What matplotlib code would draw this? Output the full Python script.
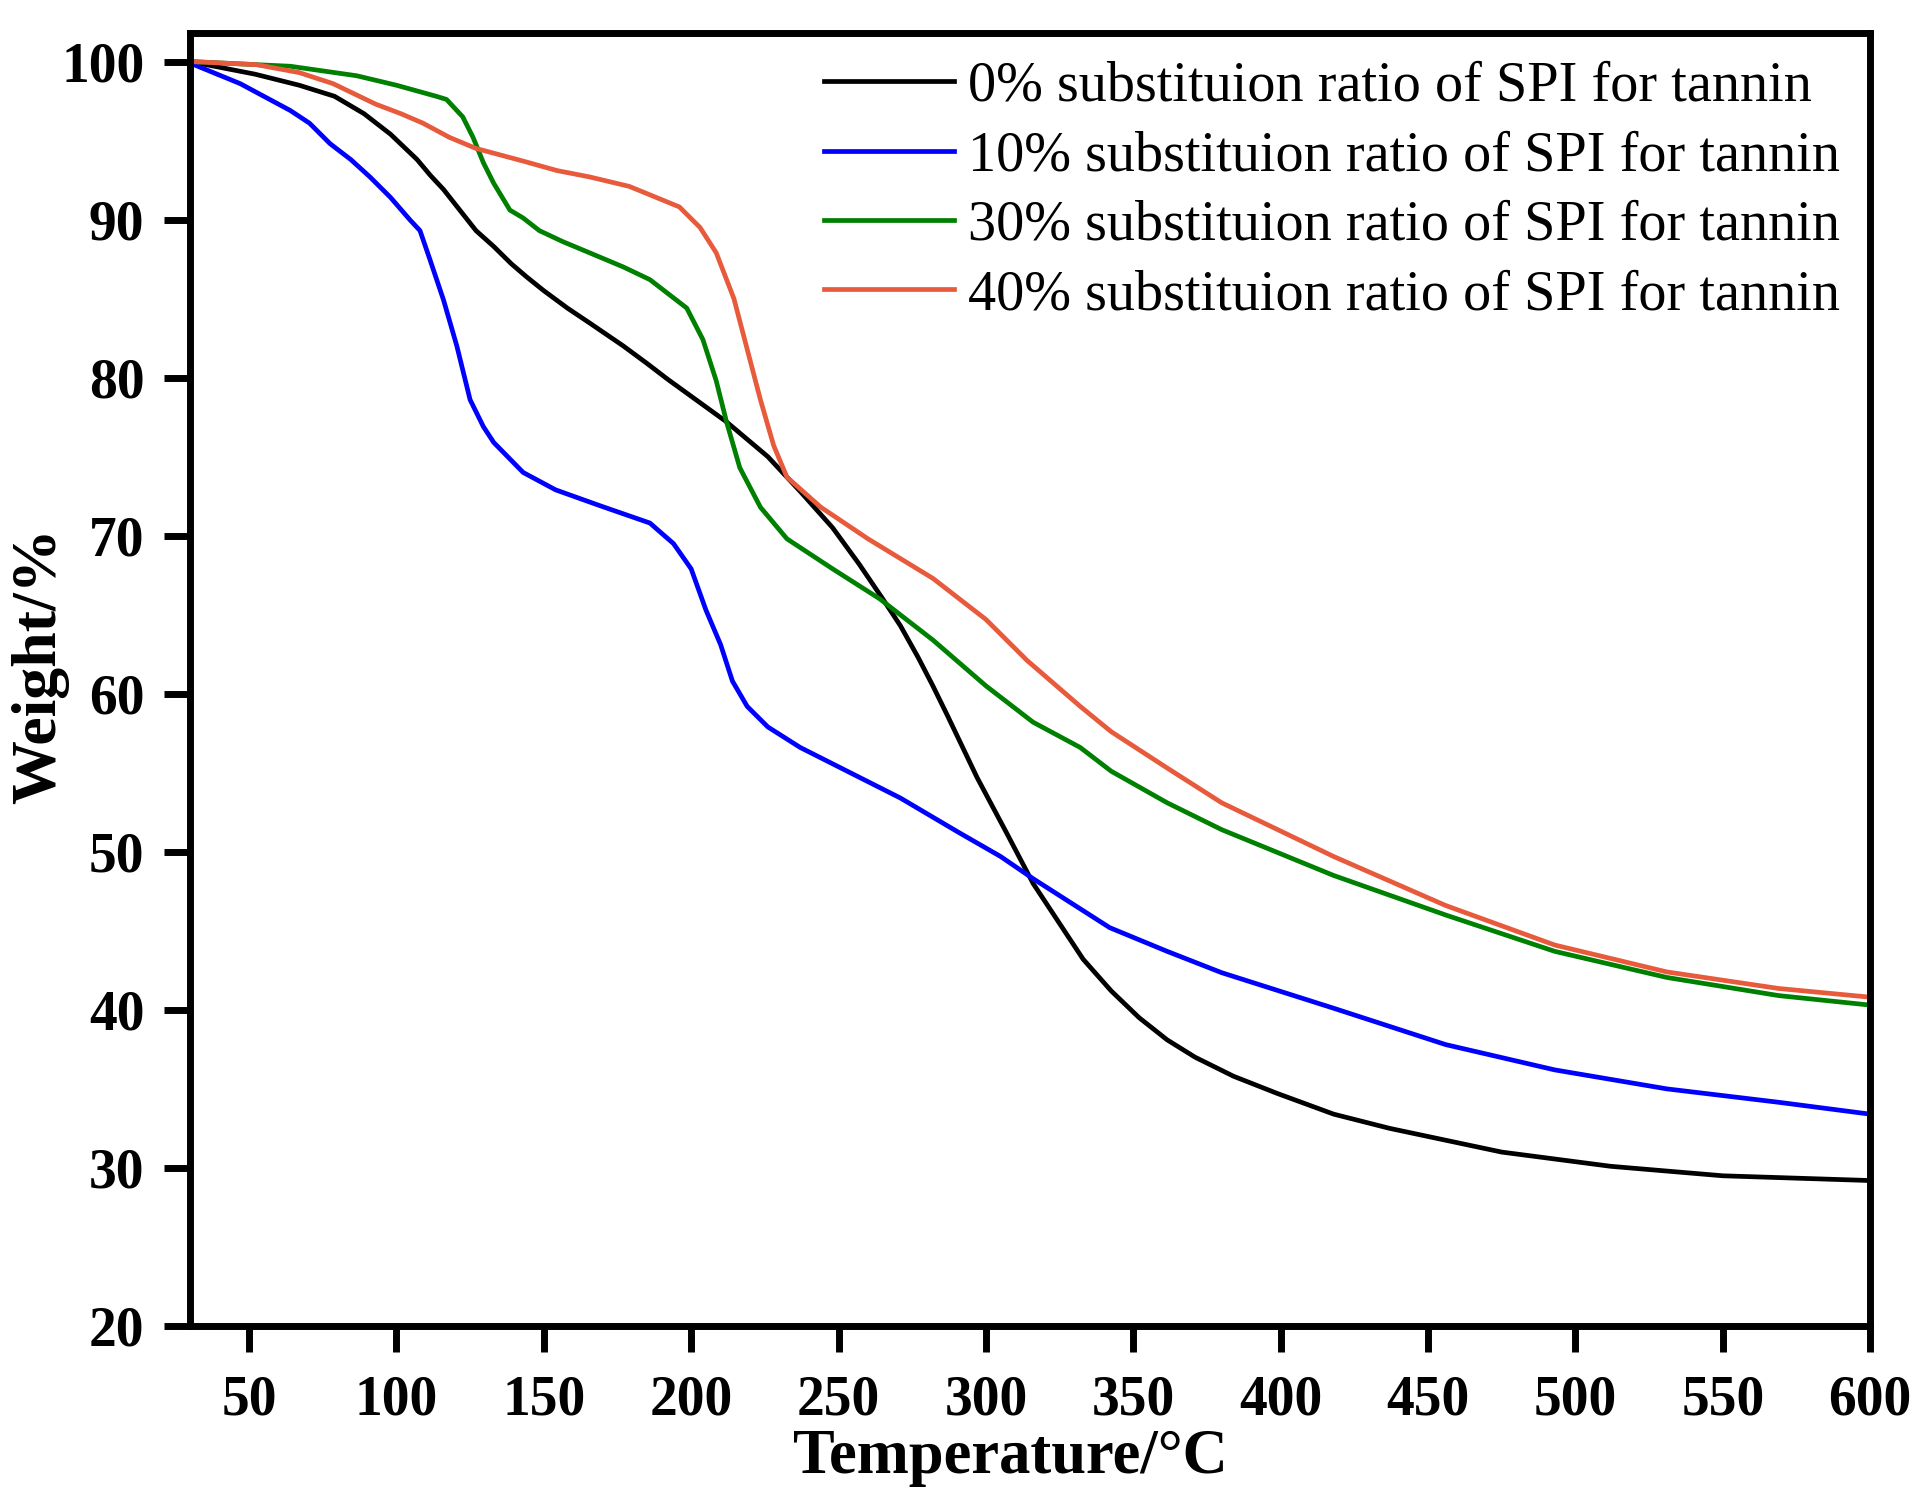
import matplotlib
matplotlib.use("Agg")
import matplotlib.pyplot as plt

plt.rcParams['font.family'] = ['Liberation Serif', 'DejaVu Serif']

# TGA curves (temperature in C, weight in %)
t_0 = [30, 52, 67, 79, 89, 98, 102.5, 107, 111.5, 116, 121.5, 127, 133, 139, 144,
       150, 158, 166, 177, 185, 192, 212, 226, 237, 248, 257, 265, 271, 277, 282,
       287, 297, 307, 316, 333, 342.5, 352, 361.5, 371, 384, 399, 418, 437, 475,
       512, 550, 600]
w_0 = [100, 99.2, 98.5, 97.8, 96.7, 95.4, 94.6, 93.8, 92.8, 91.9, 90.6, 89.3, 88.3,
       87.2, 86.4, 85.5, 84.4, 83.4, 82.0, 80.9, 79.9, 77.2, 75.0, 72.8, 70.5, 68.2,
       66.0, 64.3, 62.3, 60.5, 58.6, 54.7, 51.2, 48.0, 43.2, 41.2, 39.5, 38.1, 37.0,
       35.8, 34.7, 33.4, 32.5, 31.0, 30.1, 29.5, 29.2]

t_10 = [30, 47, 64, 70.5, 77.5, 84.5, 91, 98, 104.5, 108, 111.5, 116, 120.5, 125,
        129.5, 133, 143, 154, 169, 186, 194, 200, 205, 210, 214, 219, 226, 237, 254,
        271, 291, 305, 316, 342, 361.5, 380, 418, 456, 493, 531, 569, 600]
w_10 = [99.9, 98.6, 96.9, 96.1, 94.8, 93.8, 92.7, 91.4, 90.0, 89.3, 87.4, 84.9, 82.0,
        78.6, 76.9, 75.9, 74.0, 72.9, 71.9, 70.8, 69.5, 67.9, 65.3, 63.1, 60.8, 59.2,
        57.9, 56.6, 55.0, 53.4, 51.2, 49.7, 48.3, 45.2, 43.7, 42.35, 40.1, 37.8, 36.2,
        35.0, 34.15, 33.4]

t_30 = [30, 64, 86.5, 100, 113.5, 117, 119, 122.5, 126, 129.5, 133, 138.5, 143,
        148.5, 156.5, 165.5, 177, 186, 198.5, 204, 208.5, 212, 216.5, 223.5, 232.5,
        248, 264, 282, 300, 316, 332, 342.5, 361.5, 380, 418, 456, 493, 531, 569, 600]
w_30 = [100, 99.7, 99.1, 98.5, 97.8, 97.6, 97.2, 96.5, 95.2, 93.6, 92.3, 90.6, 90.1,
        89.3, 88.6, 87.9, 87.0, 86.2, 84.4, 82.4, 79.8, 77.2, 74.3, 71.8, 69.8, 67.9,
        66.0, 63.4, 60.5, 58.2, 56.6, 55.1, 53.1, 51.4, 48.5, 46.0, 43.7, 42.05, 40.9,
        40.3]

t_40 = [30, 52.5, 67, 78.5, 93, 101.5, 109, 118, 127, 135, 143, 154.5, 165.5, 179,
        196, 203, 208.5, 214.5, 219, 223.5, 228, 232.5, 244, 260, 282, 300, 314, 332,
        342.5, 361.5, 380, 418, 456, 493, 531, 569, 600]
w_40 = [100, 99.8, 99.3, 98.6, 97.3, 96.7, 96.1, 95.2, 94.5, 94.1, 93.7, 93.1, 92.7,
        92.1, 90.8, 89.5, 87.9, 85.0, 81.8, 78.6, 75.7, 73.7, 71.8, 69.8, 67.3, 64.7,
        62.1, 59.2, 57.6, 55.3, 53.1, 49.7, 46.6, 44.1, 42.4, 41.35, 40.8]

labels = ["0% substituion ratio of SPI for tannin",
          "10% substituion ratio of SPI for tannin",
          "30% substituion ratio of SPI for tannin",
          "40% substituion ratio of SPI for tannin"]
colors = ['black', '#0000FF', '#008000', '#E85A3C']

fig = plt.figure(figsize=(19.26, 15.03), dpi=100)
ax = fig.add_axes([0.0987, 0.1178, 0.8723, 0.8602])

for t, w, lab, c in zip([t_0, t_10, t_30, t_40], [w_0, w_10, w_30, w_40], labels, colors):
    ax.plot(t, w, color=c, lw=3.4, label=lab)

ax.set_xlim(30, 600)
ax.set_ylim(20, 101.8)
ax.set_xticks(range(50, 601, 50))
ax.set_yticks(range(20, 101, 10))

for s in ax.spines.values():
    s.set_linewidth(5)
ax.tick_params(axis='both', direction='out', length=19, width=5, labelsize=40)
ax.tick_params(axis='x', pad=16)
ax.tick_params(axis='y', pad=14)
for lbl in ax.get_xticklabels() + ax.get_yticklabels():
    lbl.set_fontweight('bold')

ax.set_xlabel("Temperature/°C", fontsize=45, fontweight='bold', labelpad=2)
ax.xaxis.label.set_x(0.488)
ax.set_ylabel("Weight/%", fontsize=46, fontweight='bold')
ax.yaxis.set_label_coords(-0.072, 0.511)

ax.legend(loc='upper right', bbox_to_anchor=(1.0054, 1.009), frameon=False, fontsize=40.5,
          handlelength=2.31, handletextpad=0.25, labelspacing=0.31, borderaxespad=0.3)

fig.savefig("out.png", dpi=100)
